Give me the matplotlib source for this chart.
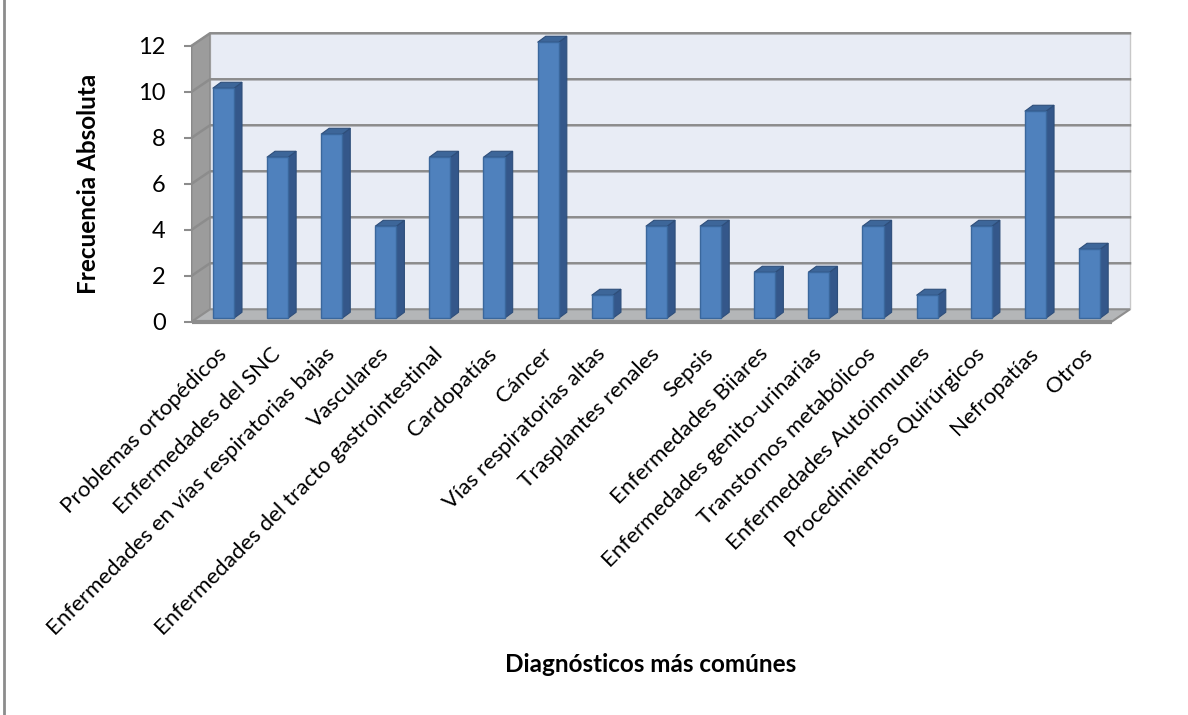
import matplotlib.pyplot as plt
import matplotlib.transforms as mtransforms
from matplotlib.lines import Line2D
from matplotlib.patches import Polygon

plt.rcParams['font.family'] = ['Lato', 'DejaVu Sans']

# data
categories = [
    'Problemas ortopédicos', 'Enfermedades del SNC',
    'Enfermedades en vías respiratorias bajas', 'Vasculares',
    'Enfermedades del tracto gastrointestinal', 'Cardopatías', 'Cáncer',
    'Vías respiratorias altas', 'Trasplantes renales', 'Sepsis',
    'Enfermedades Biiares', 'Enfermedades genito-urinarias',
    'Transtornos metabólicos', 'Enfermedades Autoinmunes',
    'Procedimientos Quirúrgicos', 'Nefropatías', 'Otros',
]
frequencies = [10, 7, 8, 4, 7, 7, 12, 1, 4, 4, 2, 2, 4, 1, 4, 9, 3]
yticks = [0, 2, 4, 6, 8, 10, 12]

# 3d look (data units)
DX, DY = 0.338, 0.54        # depth of the walls
BDX, BDY = 0.15, 0.26       # depth of a bar
LIFT = 0.15                 # bars stand in the middle of the floor
BAR_W = 0.39

FRONT = '#4F81BD'
SIDE = '#34578A'
TOP = '#3D6699'
EDGE = '#3A679C'

fig = plt.figure(figsize=(11.88, 7.15), dpi=100)
ax = fig.add_axes([191.7 / 1188, 1 - 321.7 / 715, 920 / 1188, 276 / 715])
x0, x1 = -0.584, 16.41
ax.set_xlim(x0, x1)
ax.set_ylim(0, 12)
for sp in ax.spines.values():
    sp.set_visible(False)
ax.patch.set_visible(False)

ymax = yticks[-1]
# back wall
ax.add_patch(Polygon([(x0 + DX, DY), (x1 + DX, DY), (x1 + DX, ymax + DY),
                      (x0 + DX, ymax + DY)], closed=True,
                     facecolor='#E8ECF5', edgecolor='#C8C8C8', lw=1,
                     clip_on=False, zorder=1))
# left side wall
ax.add_patch(Polygon([(x0, 0), (x0, ymax), (x0 + DX, ymax + DY),
                      (x0 + DX, DY)], closed=True,
                     facecolor='#9C9C9C', edgecolor='#8A8A8A', lw=1,
                     clip_on=False, zorder=1))
# floor
ax.add_patch(Polygon([(x0, 0), (x1, 0), (x1 + DX, DY), (x0 + DX, DY)],
                     closed=True, facecolor='#B4B6B8', edgecolor='#8E8E8E',
                     lw=1.5, clip_on=False, zorder=1))
ax.plot([x0, x1], [0, 0], color='#8C8C8C', lw=3, clip_on=False, zorder=2,
        solid_capstyle='butt')

# grid lines on the walls
for v in yticks[1:]:
    ax.plot([x0, x0 + DX, x1 + DX], [v, v + DY, v + DY], color='#8C8C8C',
            lw=1.8, clip_on=False, zorder=2)

# bars: front face through the axes, sides and top from the same rectangles
xpos = list(range(len(categories)))
bars = ax.bar(xpos, frequencies, width=BAR_W, bottom=LIFT, color=FRONT,
              edgecolor=EDGE, lw=1, zorder=4, clip_on=False)
for rect in bars:
    bx, by = rect.get_x(), rect.get_y()
    bw, bh = rect.get_width(), rect.get_height()
    ax.add_patch(Polygon([(bx + bw, by), (bx + bw + BDX, by + BDY),
                          (bx + bw + BDX, by + bh + BDY), (bx + bw, by + bh)],
                         closed=True, facecolor=SIDE, edgecolor='#2E4E7A',
                         lw=0.8, zorder=3, clip_on=False))
    ax.add_patch(Polygon([(bx, by + bh), (bx + bw, by + bh),
                          (bx + bw + BDX, by + bh + BDY),
                          (bx + BDX, by + bh + BDY)],
                         closed=True, facecolor=TOP, edgecolor='#2E4E7A',
                         lw=0.8, zorder=3, clip_on=False))

ax.set_yticks(yticks)
ax.tick_params(axis='y', length=5.8, width=1.5, color='#8C8C8C', pad=13,
               labelsize=17)
ax.set_xticks(xpos)
shift = mtransforms.ScaledTranslation(0.05, 0, fig.dpi_scale_trans)
ax.set_xticklabels(categories, rotation=45, ha='right', va='center',
                   rotation_mode='anchor', fontsize=16)
for lab in ax.get_xticklabels():
    lab.set_transform(lab.get_transform() + shift)
ax.tick_params(axis='x', length=0, pad=21)

fig.text(88 / 1188, 1 - 184 / 715, 'Frecuencia Absoluta', rotation=90,
         ha='center', va='center', fontsize=17.5, fontweight='bold')
fig.text(651 / 1188, 1 - 664 / 715, 'Diagnósticos más comúnes',
         ha='center', va='center', fontsize=17.5, fontweight='bold')

# left border of the chart area
fig.add_artist(Line2D([4 / 1188, 4 / 1188], [0, 1], color='#8C8C8C', lw=2))

fig.savefig('out.png', dpi=100)
